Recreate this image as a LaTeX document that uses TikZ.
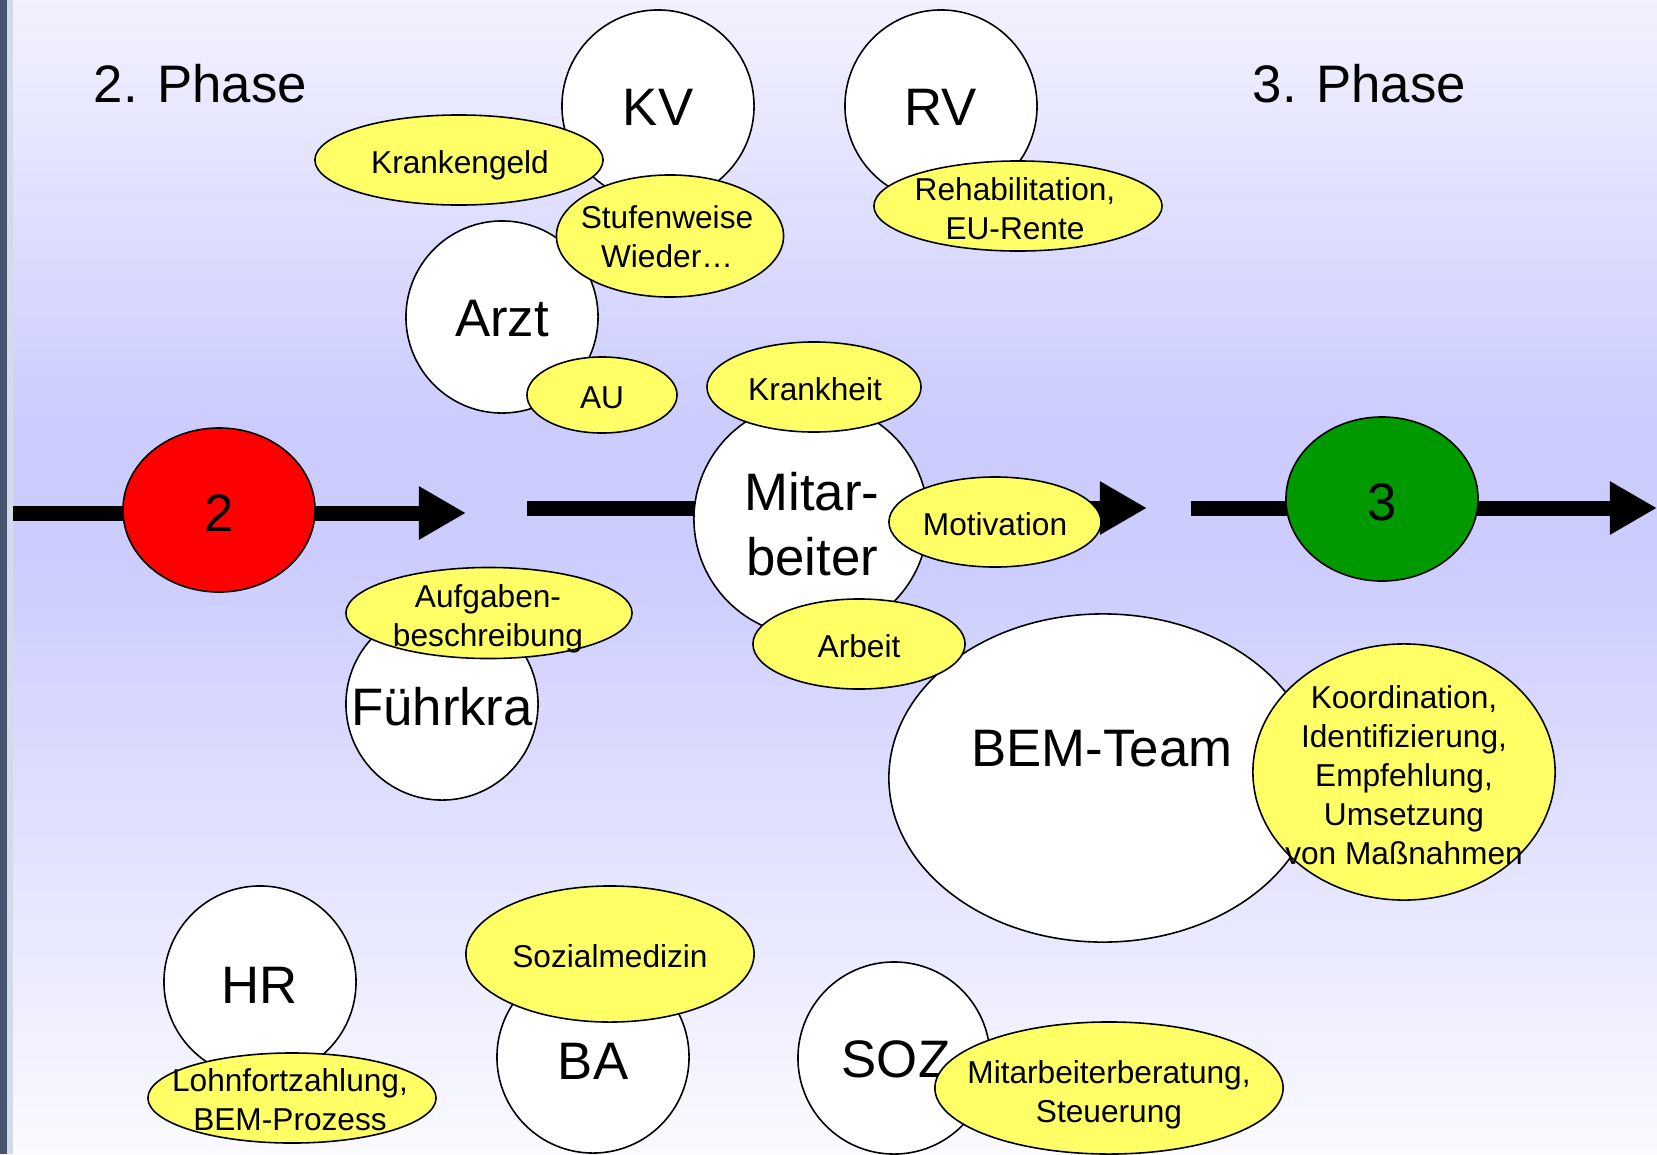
\documentclass[tikz,border=0pt]{standalone}
\usepackage{fontspec}
\setmainfont{Liberation Sans}
\usetikzlibrary{shapes.geometric,arrows.meta}

\definecolor{bgtop}{RGB}{242,242,254}
\definecolor{bgmid}{RGB}{204,204,255}
\definecolor{bgbot}{RGB}{250,250,255}
\definecolor{barcol}{RGB}{70,84,111}
\definecolor{stripcol}{RGB}{212,219,232}
\definecolor{noteyellow}{RGB}{255,255,102}
\definecolor{phasered}{RGB}{255,0,0}
\definecolor{phasegreen}{RGB}{0,153,0}

% the part from 25bp to 75bp covers the filled area
\pgfdeclareverticalshading{bgfade}{100bp}{%
  color(0bp)=(bgbot); color(25bp)=(bgbot); color(50.75bp)=(bgmid);
  color(56.8bp)=(bgmid); color(75bp)=(bgtop); color(100bp)=(bgtop)}

\tikzset{
  big/.style={font=\fontsize{15}{18.4}\selectfont},
  small/.style={font=\fontsize{9}{10.9}\selectfont, align=center},
  actor/.style={circle, draw=black, line width=0.45pt, fill=white,
    minimum size=#1, inner sep=0pt},
  note/.style n args={2}{ellipse, draw=black, line width=0.45pt, fill=noteyellow,
    minimum width=#1, minimum height=#2, inner sep=0pt},
  phase/.style={ellipse, draw=black, line width=0.45pt, fill=#1,
    minimum width=1.92cm, minimum height=1.64cm, inner sep=0pt},
  bar/.style={line width=0.15cm, line cap=butt},
  flow/.style={bar, -{Triangle[length=0.47cm, width=0.50cm]}},
  lbl/.style={anchor=base, inner sep=0pt},
}

\begin{document}
\begin{tikzpicture}[x=0.01cm, y=-0.01cm]
  % backdrop
  \useasboundingbox (0,0) rectangle (1657,1154);
  \fill[shading=bgfade] (0,0) rectangle (1657,1154);
  \fill[barcol] (0,0) rectangle (7,1154);
  \fill[stripcol] (7,0) rectangle (12.5,1154);

  % phase headings
  \node[big, lbl, anchor=base west] (ph2) at (93,102) {2. Phase};
  \node[big, lbl, anchor=base west] (ph3) at (1252,102) {3. Phase};

  % timeline anchors
  \coordinate (a1s) at (13,513);
  \coordinate (a1e) at (466,513);
  \coordinate (a2s) at (527,508);
  \coordinate (a2e) at (1147,508);
  \coordinate (a3s) at (1191,508);
  \coordinate (a3e) at (1657,508);

  % circles of the actors (multi-line labels sit on their last baseline)
  \node[actor=1.92cm] (kv) at (658,106) {};
  \node[big, lbl] (kvt) at (658,125) {KV};
  \node[actor=1.92cm] (rv) at (941,106) {};
  \node[big, lbl] (rvt) at (941,125) {RV};

  \node[note={2.88cm}{0.90cm}] (kgeld) at (459,160) {};
  \node[small, lbl] (kgeldt) at (460,173) {Krankengeld};

  \node[actor=1.92cm] (arzt) at (502,317) {};
  \node[big, lbl] (arztt) at (502,336) {Arzt};

  \node[note={2.27cm}{1.22cm}] (stufen) at (670,236) {};
  \node[small, lbl] (stufent) at (667,267) {Stufenweise\\Wieder…};

  \node[note={1.50cm}{0.76cm}] (au) at (602,395) {};
  \node[small, lbl] (aut) at (602,408) {AU};

  \node[note={2.88cm}{0.90cm}] (reha) at (1018,206) {};
  \node[small, lbl] (rehat) at (1015,239) {Rehabilitation,\\EU-Rente};

  % first phase with its arrow
  \draw[bar] (a1s) -- (219,513);
  \draw[flow] (219,513) -- (a1e);
  \node[phase=phasered] (n2) at (219,510) {};
  \node[big, lbl] (n2t) at (219,531) {2};

  % employee in the centre
  \draw[bar] (a2s) -- (811,508);
  \draw[flow] (811,508) -- (a2e);
  \node[actor=2.34cm] (ma) at (811,519) {};
  \node[big, lbl, align=center] (mat) at (812,575) {Mitar-\\beiter};

  \node[note={2.14cm}{0.90cm}] (krank) at (814,387) {};
  \node[small, lbl] (krankt) at (815,400) {Krankheit};
  \node[note={2.12cm}{0.90cm}] (motiv) at (995,522) {};
  \node[small, lbl] (motivt) at (995,535) {Motivation};

  % BEM team
  \node[ellipse, draw=black, line width=0.45pt, fill=white,
    minimum width=4.28cm, minimum height=3.28cm, inner sep=0pt] (bem) at (1103,778) {};
  \node[big, lbl] (bemt) at (1102,766) {BEM-Team};
  \node[note={2.12cm}{0.90cm}] (arbeit) at (859,644) {};
  \node[small, lbl] (arbeitt) at (859,657) {Arbeit};
  \node[note={3.02cm}{2.56cm}] (koord) at (1404,772) {};
  \node[small, lbl, font=\fontsize{9}{11.05}\selectfont] (koordt) at (1404,864)
    {Koordination,\\Identifizierung,\\Empfehlung,\\Umsetzung\\von Maßnahmen};

  % next phase
  \draw[bar] (a3s) -- (1382,508);
  \draw[flow] (1382,508) -- (a3e);
  \node[phase=phasegreen] (n3) at (1382,499) {};
  \node[big, lbl] (n3t) at (1382,520) {3};

  % supervisor
  \node[actor=1.92cm] (fk) at (442,704) {};
  \node[big, lbl] (fkt) at (442,725) {Führkra};
  \node[note={2.86cm}{0.91cm}] (aufg) at (489,613) {};
  \node[small, lbl] (aufgt) at (488,646) {Aufgaben-\\beschreibung};

  % lower row
  \node[actor=1.92cm] (hr) at (260,982) {};
  \node[big, lbl] (hrt) at (260,1003) {HR};
  \node[note={2.88cm}{0.90cm}] (lohn) at (292,1098) {};
  \node[small, lbl] (lohnt) at (290,1130) {Lohnfortzahlung,\\BEM-Prozess};

  \node[actor=1.92cm] (ba) at (593,1057) {};
  \node[big, lbl] (bat) at (593,1079) {BA};
  \node[note={2.88cm}{1.36cm}] (sozmed) at (610,954) {};
  \node[small, lbl] (sozmedt) at (610,967) {Sozialmedizin};

  \node[actor=1.92cm] (soz) at (894,1058) {};
  \node[big, lbl] (sozt) at (896,1077) {SOZ};
  \node[note={3.48cm}{1.32cm}] (berat) at (1109,1088) {};
  \node[small, lbl] (beratt) at (1109,1122) {Mitarbeiterberatung,\\Steuerung};
\end{tikzpicture}
\end{document}
